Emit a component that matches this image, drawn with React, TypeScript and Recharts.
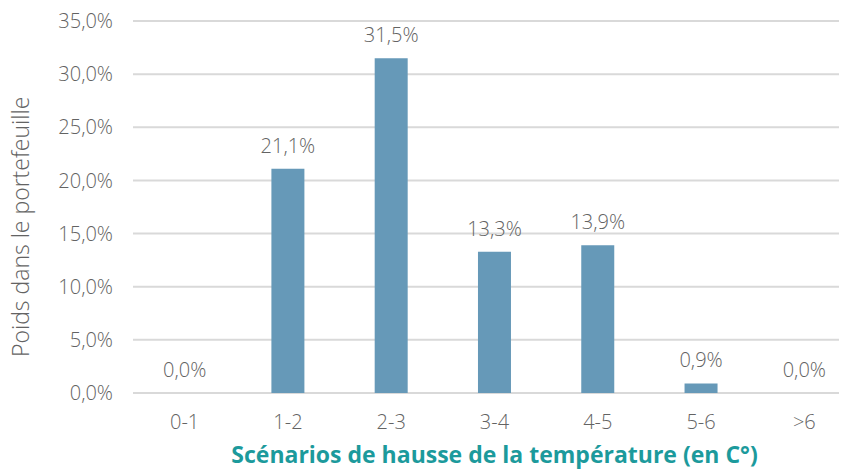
import { ComposedChart, Bar, Line, XAxis, YAxis, CartesianGrid, LabelList } from "recharts";

const scenarios = ["0-1", "1-2", "2-3", "3-4", "4-5", "5-6", ">6"];
const weights = [0.0, 21.1, 31.5, 13.3, 13.9, 0.9, 0.0];
const yTicks = [0, 5, 10, 15, 20, 25, 30, 35];

const data = scenarios.map((name, i) => ({ name, weight: weights[i] }));

const fmt = (v: number) => `${v.toFixed(1).replace(".", ",")}%`;

const font = "'Open Sans', sans-serif";
const grey = "#636363";

export default function App() {
  return (
    <div style={{ margin: "-8px 0 0 -8px", width: 864, height: 471, fontFamily: font }}>
      <ComposedChart
        width={864}
        height={471}
        data={data}
        margin={{ top: 21, right: 8, left: 0, bottom: 0 }}
        barCategoryGap="34%"
      >
        <CartesianGrid vertical={false} stroke="#d9d9d9" strokeWidth={2} />
        <XAxis
          dataKey="name"
          height={78}
          axisLine={false}
          tickLine={false}
          tick={{ fill: grey, fontSize: 20, fontWeight: 300, fontFamily: font }}
          tickMargin={16}
          label={{
            value: "Scénarios de hausse de la température (en C°)",
            position: "insideBottom",
            offset: 8,
            fill: "#1c9a9c",
            fontSize: 23,
            fontWeight: 700,
            fontFamily: font,
          }}
        />
        <YAxis
          domain={[0, 35]}
          ticks={yTicks}
          width={133}
          axisLine={false}
          tickLine={false}
          tickFormatter={fmt}
          tick={{ fill: grey, fontSize: 20, fontWeight: 300, fontFamily: font }}
          tickMargin={14}
          label={{
            value: "Poids dans le portefeuille",
            angle: -90,
            position: "insideLeft",
            offset: 21,
            dy: 150,
            fill: grey,
            fontSize: 23,
            fontWeight: 300,
            fontFamily: font,
          }}
        />
        <Bar dataKey="weight" fill="#6699b8" isAnimationActive={false} />
        <Line
          dataKey="weight"
          stroke="none"
          dot={false}
          activeDot={false}
          isAnimationActive={false}
        >
          <LabelList
            dataKey="weight"
            position="top"
            offset={16}
            formatter={(v: number) => fmt(v)}
            fill={grey}
            fontSize={20}
            fontWeight={300}
            fontFamily={font}
          />
        </Line>
      </ComposedChart>
    </div>
  );
}
